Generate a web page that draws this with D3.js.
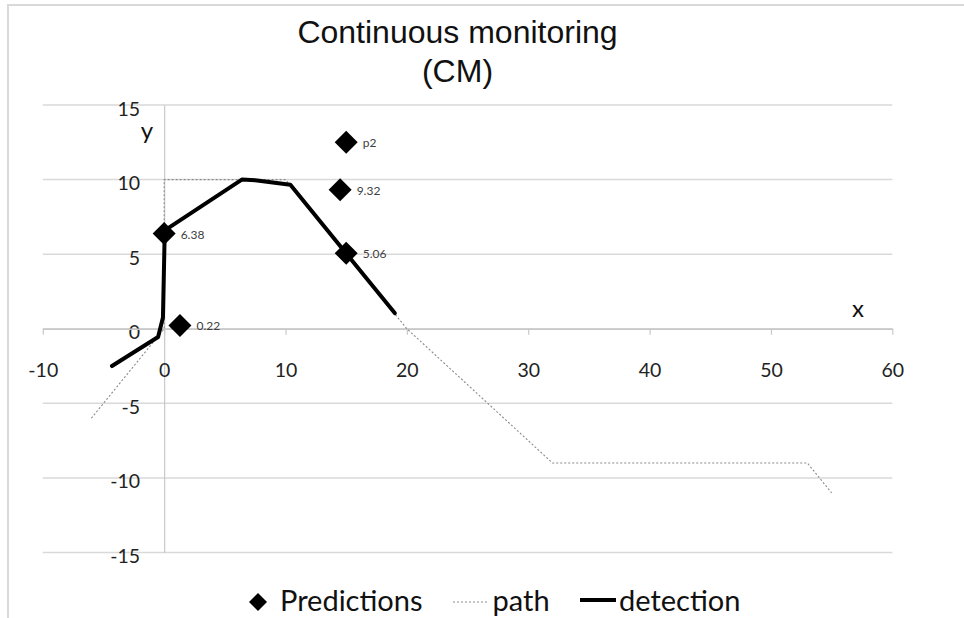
<!DOCTYPE html>
<html>
<head>
<meta charset="utf-8">
<script src="https://cdn.jsdelivr.net/npm/d3@7"></script>
<style>
  html, body { margin: 0; padding: 0; background: #fff; }
  svg { display: block; }
</style>
</head>
<body>
<svg id="chart" width="964" height="618"></svg>
<script>
// Chart data
const xTicks = [-10, 0, 10, 20, 30, 40, 50, 60];
const yTicks = [-15, -10, -5, 0, 5, 10, 15];

// Predicted positions and their value labels
const predX = [0, 1.3, 14.5, 15, 15];
const predY = [6.38, 0.22, 9.32, 5.06, 12.5];
const predLabels = ["6.38", "0.22", "9.32", "5.06", "p2"];

// True path of the target
const pathX = [-6, 0, 0, 10, 20, 32, 53, 55];
const pathY = [-6, 0, 10, 10, 0, -9, -9, -11];

// Detected track
const detX = [-4.3, -0.5, -0.1, 0.05, 6.4, 7.5, 10.4, 19.0];
const detY = [-2.5, -0.55, 0.75, 6.6, 10.0, 9.95, 9.65, 1.05];

const titleLines = ["Continuous monitoring", "(CM)"];
const legendNames = ["Predictions", "path", "detection"];

const svg = d3.select("#chart");
const W = 964, H = 618;

const x = d3.scaleLinear().domain([-10, 60]).range([42.8, 892.3]);
const y = d3.scaleLinear().domain([-15, 15]).range([552.5, 105]);

const tickFont = "Lato, 'Open Sans', sans-serif";
const plainNum = d => String(d);

// Outer chart frame (left and top edges)
svg.append("path")
  .attr("d", `M8,${H} L8,5 L${W},5`)
  .attr("fill", "none")
  .attr("stroke", "#d9d9d9")
  .attr("stroke-width", 2);

// Title
svg.append("g").selectAll("text")
  .data(titleLines)
  .join("text")
  .attr("x", 457.5)
  .attr("y", (d, i) => 43.3 + i * 38.7)
  .attr("text-anchor", "middle")
  .attr("font-family", "'Liberation Sans', Arial, sans-serif")
  .attr("font-size", 32)
  .attr("fill", "#111")
  .text(d => d);

// Horizontal gridlines
svg.append("g").selectAll("line")
  .data(yTicks)
  .join("line")
  .attr("x1", x(-10)).attr("x2", x(60))
  .attr("y1", d => y(d)).attr("y2", d => y(d))
  .attr("stroke", "#d9d9d9")
  .attr("stroke-width", 1.5);

// Vertical axis through x = 0
const yAxis = d3.axisLeft(y).tickValues(yTicks).tickSize(0).tickPadding(24).tickFormat(plainNum);
const gy = svg.append("g").attr("transform", `translate(${x(0)},0)`).call(yAxis);
gy.select(".domain").attr("stroke", "#c8c8c8").attr("stroke-width", 1.2);
gy.selectAll("text")
  .attr("font-family", tickFont)
  .attr("font-size", 19.5)
  .attr("fill", "#222")
  .attr("dy", 0)
  .attr("y", 10);

// Horizontal axis through y = 0
const xAxis = d3.axisBottom(x).tickValues(xTicks).tickSize(6).tickSizeOuter(0).tickFormat(plainNum);
const gx = svg.append("g").attr("transform", `translate(0,${y(0)})`).call(xAxis);
gx.select(".domain").attr("stroke", "#c8c8c8").attr("stroke-width", 1.5);
gx.selectAll(".tick line").attr("stroke", "#c8c8c8").attr("stroke-width", 1.2);
gx.selectAll("text")
  .attr("font-family", tickFont)
  .attr("font-size", 19.5)
  .attr("fill", "#222")
  .attr("dy", 0)
  .attr("y", 47.8);

// Axis titles
svg.append("text")
  .attr("x", 147).attr("y", 139)
  .attr("text-anchor", "middle")
  .attr("font-family", tickFont).attr("font-size", 24).attr("fill", "#111")
  .text("y");
svg.append("text")
  .attr("x", 858).attr("y", 317.3)
  .attr("text-anchor", "middle")
  .attr("font-family", tickFont).attr("font-size", 24).attr("fill", "#111")
  .text("x");

const line = d3.line().x(d => x(d[0])).y(d => y(d[1]));

// Path (thin dotted)
svg.append("path")
  .datum(d3.zip(pathX, pathY))
  .attr("d", line)
  .attr("fill", "none")
  .attr("stroke", "#8a8a8a")
  .attr("stroke-width", 1.1)
  .attr("stroke-dasharray", "2,2");

// Detection (thick solid)
svg.append("path")
  .datum(d3.zip(detX, detY))
  .attr("d", line)
  .attr("fill", "none")
  .attr("stroke", "#000")
  .attr("stroke-width", 4)
  .attr("stroke-linejoin", "round")
  .attr("stroke-linecap", "round");

// Diamond marker (square rotated by 45 degrees)
const diamond = {
  draw(ctx, size) {
    const r = Math.sqrt(size / 2);
    ctx.moveTo(0, -r); ctx.lineTo(r, 0); ctx.lineTo(0, r); ctx.lineTo(-r, 0); ctx.closePath();
  }
};
const predSym = d3.symbol().type(diamond).size(2 * 11.5 * 11.5);

const preds = d3.range(predX.length).map(i => ({ x: predX[i], y: predY[i], label: predLabels[i] }));

svg.append("g").selectAll("path")
  .data(preds)
  .join("path")
  .attr("transform", d => `translate(${x(d.x)},${y(d.y)})`)
  .attr("d", predSym)
  .attr("fill", "#000");

svg.append("g").selectAll("text")
  .data(preds)
  .join("text")
  .attr("x", d => x(d.x) + 16.5)
  .attr("y", d => y(d.y) + 5)
  .attr("font-family", tickFont)
  .attr("font-size", 12)
  .attr("fill", "#404040")
  .text(d => d.label);

// Legend
const lg = svg.append("g");
const legY = 611;
lg.append("path")
  .attr("transform", `translate(258,${legY - 9})`)
  .attr("d", d3.symbol().type(diamond).size(2 * 9 * 9)())
  .attr("fill", "#000");
lg.append("line")
  .attr("x1", 453).attr("x2", 488).attr("y1", legY - 9).attr("y2", legY - 9)
  .attr("stroke", "#8a8a8a").attr("stroke-width", 1.1).attr("stroke-dasharray", "2,2");
lg.append("line")
  .attr("x1", 580).attr("x2", 616).attr("y1", legY - 11).attr("y2", legY - 11)
  .attr("stroke", "#000").attr("stroke-width", 4);
lg.selectAll("text")
  .data(legendNames)
  .join("text")
  .attr("x", (d, i) => [280, 492.5, 619][i])
  .attr("y", legY)
  .attr("font-family", tickFont)
  .attr("font-size", 29)
  .attr("fill", "#111")
  .text(d => d);
</script>
</body>
</html>
